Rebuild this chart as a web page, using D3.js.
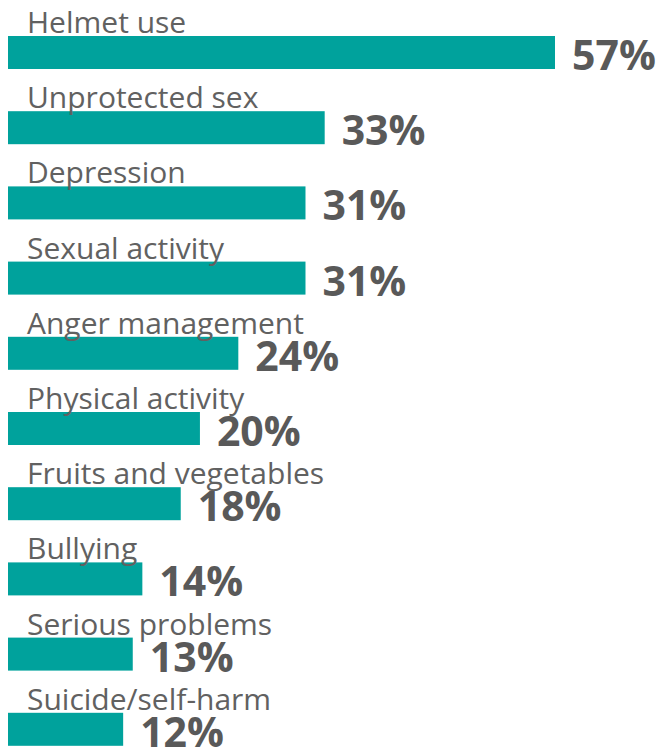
<!DOCTYPE html>
<html>
<head>
<meta charset="utf-8">
<script src="https://cdn.jsdelivr.net/npm/d3@7"></script>
<style>
  html, body { margin: 0; padding: 0; background: #fff; }
  svg { display: block; }
</style>
</head>
<body>
<svg id="chart" width="659" height="751"></svg>
<script>
// Share of respondents per topic (percent)
const categories = [
  "Helmet use", "Unprotected sex", "Depression", "Sexual activity",
  "Anger management", "Physical activity", "Fruits and vegetables",
  "Bullying", "Serious problems", "Suicide/self-harm"
];
const values = [57, 33, 31, 31, 24, 20, 18, 14, 13, 12];

const width = 659, height = 751;
const left = 8;
const svg = d3.select("#chart");

const x = d3.scaleLinear().domain([0, 57]).range([left, 555]);
// Each row: label above, bar below; row pitch ~75px
const y = d3.scaleBand().domain(categories).range([36, 36 + 75.2 * 10]);

const barH = 33;
const rows = svg.selectAll("g.row")
  .data(categories.map((c, i) => ({ c, v: values[i] })))
  .join("g")
  .attr("class", "row")
  .attr("transform", d => `translate(0,${y(d.c)})`);

rows.append("rect")
  .attr("x", x(0))
  .attr("y", 0)
  .attr("width", d => x(d.v) - x(0))
  .attr("height", barH)
  .attr("fill", "#00A29C");

rows.append("text")
  .attr("x", 27)
  .attr("y", -3)
  .attr("font-family", "'Open Sans', sans-serif")
  .attr("font-size", 30)
  .attr("fill", "#616161")
  .text(d => d.c);

rows.append("text")
  .attr("x", d => x(d.v) + 17)
  .attr("y", barH + 1)
  .attr("font-family", "'Open Sans', sans-serif")
  .attr("font-weight", 700)
  .attr("font-size", 41)
  .attr("fill", "#595959")
  .text(d => d.v + "%");
</script>
</body>
</html>
